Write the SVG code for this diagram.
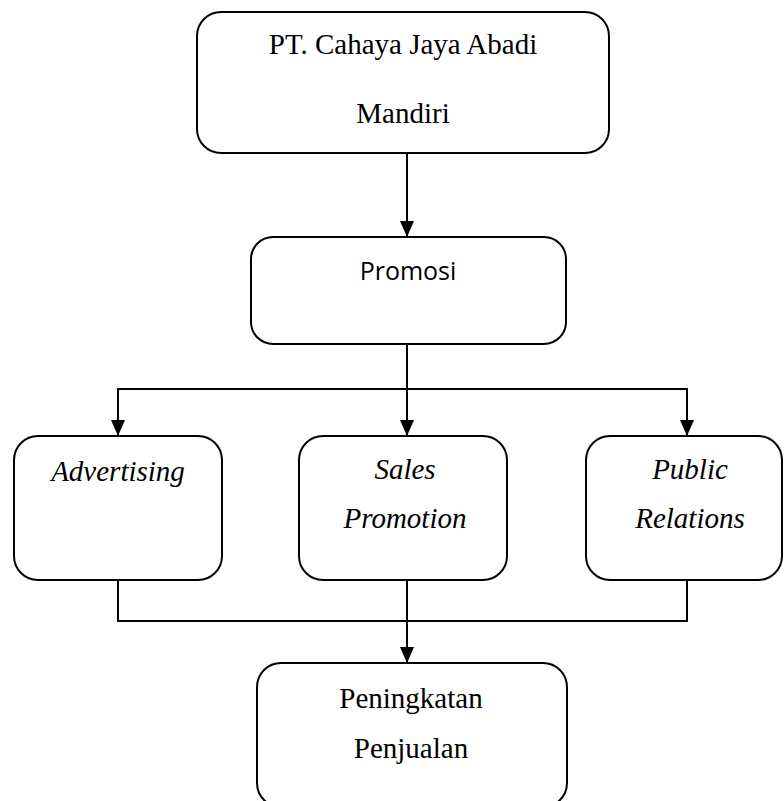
<svg xmlns="http://www.w3.org/2000/svg" width="784" height="801" viewBox="0 0 784 801">
<defs>
<marker id="ah" markerUnits="userSpaceOnUse" markerWidth="16" markerHeight="14" viewBox="0 0 16 14" refX="16" refY="7" orient="auto">
<path d="M0,0 L16,7 L0,14 Z" fill="#000"/>
</marker>
</defs>
<style>
.box{fill:#fff;stroke:#000;stroke-width:2}
.t{font-family:"Liberation Serif","Times New Roman",serif;font-size:29px;fill:#000;text-anchor:middle}
.i{font-style:italic}
.s{font-family:"Open Sans","Noto Sans",sans-serif;font-size:25px;fill:#000;text-anchor:middle}
.c{fill:none;stroke:#000;stroke-width:2}
</style>
<rect width="784" height="801" fill="#fff"/>
<g id="connectors">
<line class="c" x1="407" y1="153" x2="407" y2="237" marker-end="url(#ah)"/>
<line class="c" x1="407" y1="344" x2="407" y2="436" marker-end="url(#ah)"/>
<polyline class="c" points="118,389 687,389"/>
<line class="c" x1="118" y1="388" x2="118" y2="436" marker-end="url(#ah)"/>
<line class="c" x1="687" y1="388" x2="687" y2="436" marker-end="url(#ah)"/>
<polyline class="c" points="118,580 118,621 687,621 687,580"/>
<line class="c" x1="407" y1="580" x2="407" y2="663" marker-end="url(#ah)"/>
</g>
<g id="n-company">
<rect class="box" x="197" y="12" width="412" height="141" rx="24"/>
<text class="t" x="403" y="54">PT. Cahaya Jaya Abadi</text>
<text class="t" x="403" y="123">Mandiri</text>
</g>
<g id="n-promosi">
<rect class="box" x="251" y="237" width="315" height="107" rx="22"/>
<text class="s" x="408" y="280">Promosi</text>
</g>
<g id="n-advertising">
<rect class="box" x="14" y="436" width="208" height="144" rx="24"/>
<text class="t i" x="118" y="481">Advertising</text>
</g>
<g id="n-sales">
<rect class="box" x="299" y="436" width="208" height="144" rx="24"/>
<text class="t i" x="405" y="479">Sales</text>
<text class="t i" x="405" y="528">Promotion</text>
</g>
<g id="n-public">
<rect class="box" x="586" y="436" width="196" height="144" rx="24"/>
<text class="t i" x="690" y="479">Public</text>
<text class="t i" x="690" y="528">Relations</text>
</g>
<g id="n-peningkatan">
<rect class="box" x="257" y="663" width="310" height="144" rx="24"/>
<text class="t" x="411" y="708">Peningkatan</text>
<text class="t" x="411" y="758">Penjualan</text>
</g>
</svg>
